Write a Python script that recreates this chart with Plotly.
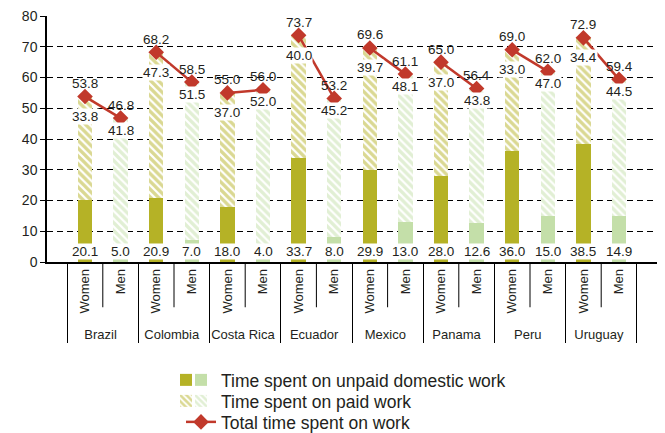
import plotly.graph_objects as go

countries = ["Brazil", "Colombia", "Costa Rica", "Ecuador", "Mexico", "Panama", "Peru", "Uruguay"]
sexes = ["Women", "Men"]

women_unpaid = [20.1, 20.9, 18.0, 33.7, 29.9, 28.0, 36.0, 38.5]
men_unpaid = [5.0, 7.0, 4.0, 8.0, 13.0, 12.6, 15.0, 14.9]
women_paid = [33.8, 47.3, 37.0, 40.0, 39.7, 37.0, 33.0, 34.4]
men_paid = [41.8, 51.5, 52.0, 45.2, 48.1, 43.8, 47.0, 44.5]
women_total = [53.8, 68.2, 55.0, 73.7, 69.6, 65.0, 69.0, 72.9]
men_total = [46.8, 58.5, 56.0, 53.2, 61.1, 56.4, 62.0, 59.4]

OLIVE = "#b5b226"
GREEN = "#c4dfa9"
RED = "#c1392b"
TXT = "#231f20"
FONT = "Liberation Sans, Arial, sans-serif"
W, H = 665, 433

xw = [countries, [sexes[0]] * len(countries)]
xm = [countries, [sexes[1]] * len(countries)]


def hatch(col):
    return dict(color="white", line_width=0,
                pattern=dict(shape="\\", fgcolor=col, bgcolor="white", size=5.5, solidity=0.6))


fig = go.Figure()
fig.add_trace(go.Bar(x=xw, y=women_unpaid, name=" ", legend="legend",
                     marker=dict(color=OLIVE, line_width=0)))
fig.add_trace(go.Bar(x=xm, y=men_unpaid, name="Time spent on unpaid domestic work", legend="legend2",
                     marker=dict(color=GREEN, line_width=0)))
fig.add_trace(go.Bar(x=xw, y=women_paid, name=" ", legend="legend3", marker=hatch(OLIVE)))
fig.add_trace(go.Bar(x=xm, y=men_paid, name="Time spent on paid work", legend="legend4", marker=hatch(GREEN)))

for i, c in enumerate(countries):
    fig.add_trace(go.Scatter(
        x=[[c, c], sexes], y=[women_total[i], men_total[i]],
        mode="lines+markers", line=dict(color=RED, width=2.5),
        marker=dict(symbol="diamond", size=12, color=RED),
        name="Total time spent on work", legend="legend5",
        legendgroup="total", showlegend=(i == 0)))

# data labels
lab = dict(showarrow=False, font=dict(size=13.5, color=TXT, family=FONT), borderpad=0)
for i, c in enumerate(countries):
    rows = [(women_unpaid[i], women_paid[i], women_total[i]),
            (men_unpaid[i], men_paid[i], men_total[i])]
    for j, (unp, paid, tot) in enumerate(rows):
        pos = 2 * i + j
        fig.add_annotation(x=pos, y=0, text=f"{unp:.1f}", yanchor="bottom", yshift=2,
                           bgcolor="white", **lab)
        fig.add_annotation(x=pos, y=tot, text=f"{paid:.1f}", yanchor="middle",
                           yshift=-20 if j == 0 else -12, bgcolor="white", **lab)
        fig.add_annotation(x=pos, y=tot, text=f"{tot:.1f}", yanchor="middle", yshift=13, **lab)
    # separator between Women and Men under the axis
    fig.add_shape(type="line", xref="x", yref="paper", x0=2 * i + 0.5, x1=2 * i + 0.5,
                  y0=0, y1=-0.184, line=dict(color="black", width=1))

leg = dict(bgcolor="rgba(0,0,0,0)", font=dict(size=17.5, color=TXT, family=FONT),
           xanchor="left", yanchor="middle", orientation="v", xref="paper", yref="container")
xa, xb = (166 - 47) / 610, (181 - 47) / 610
fig.update_layout(
    width=W, height=H,
    margin=dict(l=47, r=8, t=12, b=171),
    paper_bgcolor="white", plot_bgcolor="white",
    font=dict(family=FONT, color=TXT),
    barmode="stack", bargap=0.6, showlegend=True,
    legend=dict(x=xa, y=1 - 380 / H, **leg),
    legend2=dict(x=xb, y=1 - 380 / H, **leg),
    legend3=dict(x=xa, y=1 - 401 / H, **leg),
    legend4=dict(x=xb, y=1 - 401 / H, **leg),
    legend5=dict(x=xb, y=1 - 422 / H, **leg),
)
fig.update_yaxes(range=[0, 80], dtick=10, showgrid=True, gridcolor="black", gridwidth=1,
                 griddash="6px,4px", showline=True, linecolor="black", linewidth=1.5,
                 ticks="outside", ticklen=5, tickcolor="black", zeroline=False,
                 ticklabeloverflow="allow", tickfont=dict(size=14, color=TXT))
fig.update_xaxes(showline=True, linecolor="black", linewidth=1.5, ticks="",
                 tickangle=-90, tickfont=dict(size=13, color=TXT),
                 showdividers=True, dividercolor="black", dividerwidth=1)

# drop the page's default body margin so the figure sits at the window corner
fig.write_html("out.html", config={"displayModeBar": False},
               post_script="document.body.style.margin = '0';")
